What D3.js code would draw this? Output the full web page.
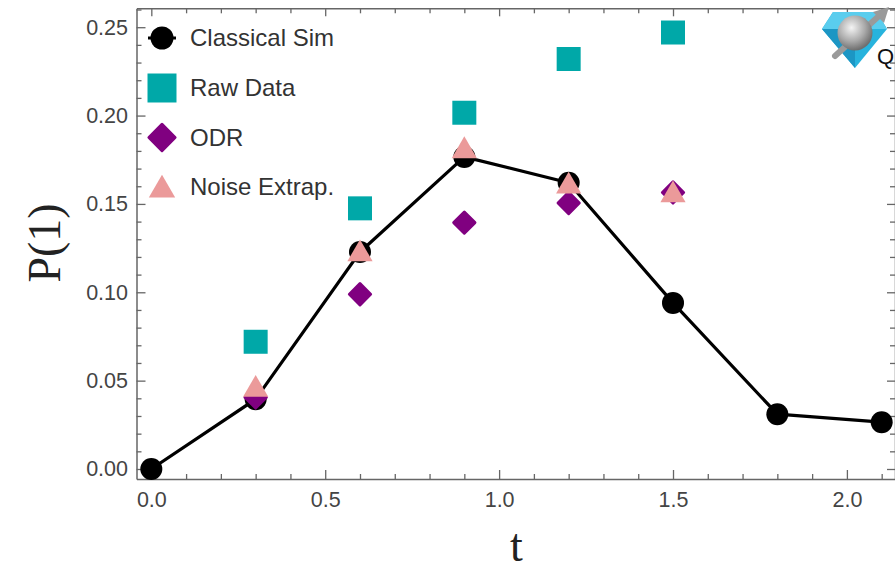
<!DOCTYPE html>
<html>
<head>
<meta charset="utf-8">
<script src="https://cdn.jsdelivr.net/npm/d3@7"></script>
<style>
  html, body { margin: 0; padding: 0; background: #fff; }
  svg { display: block; }
  .tick text { font-family: "Liberation Sans", Arial, sans-serif; font-size: 21.5px; fill: #444; }
  .legend text { font-family: "Liberation Sans", Arial, sans-serif; font-size: 24px; fill: #333; }
</style>
</head>
<body>
<div id="chart"></div>
<script>
// Data
const simT = [0, 0.3, 0.6, 0.9, 1.2, 1.5, 1.8, 2.1];
const classicalSim = [0, 0.0395, 0.1228, 0.1766, 0.162, 0.094, 0.031, 0.0265];
const expT = [0.3, 0.6, 0.9, 1.2, 1.5];
const rawData = [0.072, 0.1475, 0.2016, 0.232, 0.247];
const odr = [0.0405, 0.0989, 0.1394, 0.1505, 0.1565];
const noiseExtrap = [0.045, 0.1217, 0.180, 0.160, 0.155];
const xMajor = [0, 0.5, 1, 1.5, 2];
const yMajor = [0, 0.05, 0.1, 0.15, 0.2, 0.25];
const legendNames = ["Classical Sim", "Raw Data", "ODR", "Noise Extrap."];

const W = 895, H = 572;
const frame = {left: 136.5, right: 895, top: 8.3, bottom: 479};

const svg = d3.select("#chart").append("svg")
    .attr("width", W)
    .attr("height", H);

// Scales (domain chosen so the frame edges match the reference)
const x = d3.scaleLinear()
    .domain([-0.0426, 2.1383])
    .range([frame.left, frame.right]);
const y = d3.scaleLinear()
    .domain([-0.00566, 0.2607])
    .range([frame.bottom, frame.top]);

const xMinor = d3.range(0, 22).map(i => i / 10).filter(v => !xMajor.some(m => Math.abs(m - v) < 1e-9));
const yMinor = d3.range(0, 27).map(i => i / 100).filter(v => !yMajor.some(m => Math.abs(m - v) < 1e-9));

function styleAxis(g) {
    g.select(".domain").attr("stroke", "#666").attr("stroke-width", 1.5);
    g.selectAll(".tick line").attr("stroke", "#666").attr("stroke-width", 1.3);
}

// Bottom axis
svg.append("g")
    .attr("transform", `translate(0,${frame.bottom})`)
    .call(d3.axisBottom(x).tickValues(xMajor).tickFormat(d3.format(".1f"))
        .tickSizeInner(-9).tickSizeOuter(0).tickPadding(13))
    .call(styleAxis)
    .call(g => g.selectAll(".tick text").attr("fill", "#444"));
svg.append("g")
    .attr("transform", `translate(0,${frame.bottom})`)
    .call(d3.axisBottom(x).tickValues(xMinor).tickFormat("").tickSizeInner(-5).tickSizeOuter(0))
    .call(styleAxis)
    .call(g => g.select(".domain").remove());

// Top axis
svg.append("g")
    .attr("transform", `translate(0,${frame.top})`)
    .call(d3.axisTop(x).tickValues(xMajor).tickFormat("").tickSizeInner(-8).tickSizeOuter(0))
    .call(styleAxis);
svg.append("g")
    .attr("transform", `translate(0,${frame.top})`)
    .call(d3.axisTop(x).tickValues(xMinor).tickFormat("").tickSizeInner(-5).tickSizeOuter(0))
    .call(styleAxis)
    .call(g => g.select(".domain").remove());

// Left axis
svg.append("g")
    .attr("transform", `translate(${frame.left},0)`)
    .call(d3.axisLeft(y).tickValues(yMajor).tickFormat(d3.format(".2f"))
        .tickSizeInner(-9).tickSizeOuter(0).tickPadding(8.5))
    .call(styleAxis)
    .call(g => g.selectAll(".tick text").attr("fill", "#444"));
svg.append("g")
    .attr("transform", `translate(${frame.left},0)`)
    .call(d3.axisLeft(y).tickValues(yMinor).tickFormat("").tickSizeInner(-5).tickSizeOuter(0))
    .call(styleAxis)
    .call(g => g.select(".domain").remove());

// Right axis
svg.append("g")
    .attr("transform", `translate(${frame.right},0)`)
    .call(d3.axisRight(y).tickValues(yMajor).tickFormat("").tickSizeInner(-8).tickSizeOuter(0))
    .call(styleAxis);
svg.append("g")
    .attr("transform", `translate(${frame.right},0)`)
    .call(d3.axisRight(y).tickValues(yMinor).tickFormat("").tickSizeInner(-5).tickSizeOuter(0))
    .call(styleAxis)
    .call(g => g.select(".domain").remove());

// Axis labels
svg.append("text")
    .attr("transform", `translate(${60},${243}) rotate(-90)`)
    .attr("text-anchor", "middle")
    .style("font-family", "'Liberation Serif', 'Times New Roman', serif")
    .style("font-size", "46px")
    .attr("fill", "#222")
    .text("P(1)");
svg.append("text")
    .attr("x", x(1.05))
    .attr("y", 561)
    .attr("text-anchor", "middle")
    .style("font-family", "'Liberation Serif', 'Times New Roman', serif")
    .style("font-size", "46px")
    .attr("fill", "#222")
    .text("t");

// Colours
const cBlack = "#000000", cTeal = "#00A8A8", cPurple = "#800080", cPink = "#EB9A9A";

const plot = svg.append("g");

// Classical Sim line and circles
const sim = simT.map((t, i) => ({t: t, v: classicalSim[i]}));
plot.append("path")
    .datum(sim)
    .attr("fill", "none")
    .attr("stroke", cBlack)
    .attr("stroke-width", 3.2)
    .attr("stroke-linejoin", "round")
    .attr("d", d3.line().x(d => x(d.t)).y(d => y(d.v)));
plot.selectAll(".simDot")
    .data(sim)
    .enter().append("circle")
    .attr("class", "simDot")
    .attr("cx", d => x(d.t))
    .attr("cy", d => y(d.v))
    .attr("r", 11)
    .attr("fill", cBlack);

// Raw Data squares
plot.selectAll(".rawDot")
    .data(expT.map((t, i) => ({t: t, v: rawData[i]})))
    .enter().append("path")
    .attr("class", "rawDot")
    .attr("transform", d => `translate(${x(d.t)},${y(d.v)})`)
    .attr("d", d3.symbol(d3.symbolSquare, 24 * 24))
    .attr("fill", cTeal);

// ODR diamonds (rounded)
plot.selectAll(".odrDot")
    .data(expT.map((t, i) => ({t: t, v: odr[i]})))
    .enter().append("path")
    .attr("class", "odrDot")
    .attr("transform", d => `translate(${x(d.t)},${y(d.v)}) rotate(45)`)
    .attr("d", d3.symbol(d3.symbolSquare, 15 * 15))
    .attr("fill", cPurple)
    .attr("stroke", cPurple)
    .attr("stroke-width", 3)
    .attr("stroke-linejoin", "round");

// Noise Extrap. triangles
plot.selectAll(".noiseDot")
    .data(expT.map((t, i) => ({t: t, v: noiseExtrap[i]})))
    .enter().append("path")
    .attr("class", "noiseDot")
    .attr("transform", d => `translate(${x(d.t)},${y(d.v)})`)
    .attr("d", d3.symbol(d3.symbolTriangle, 275))
    .attr("fill", cPink);

// Legend
const legend = svg.append("g").attr("class", "legend");
const legendY = [38, 88, 137.5, 187];
const lx = 162;

legend.append("line")
    .attr("x1", lx - 14).attr("x2", lx + 14)
    .attr("y1", legendY[0]).attr("y2", legendY[0])
    .attr("stroke", cBlack).attr("stroke-width", 3);
legend.append("circle")
    .attr("cx", lx).attr("cy", legendY[0]).attr("r", 11.5)
    .attr("fill", cBlack);
legend.append("path")
    .attr("transform", `translate(${lx},${legendY[1]})`)
    .attr("d", d3.symbol(d3.symbolSquare, 29 * 29))
    .attr("fill", cTeal);
legend.append("path")
    .attr("transform", `translate(${lx},${legendY[2]}) rotate(45)`)
    .attr("d", d3.symbol(d3.symbolSquare, 18.5 * 18.5))
    .attr("fill", cPurple)
    .attr("stroke", cPurple)
    .attr("stroke-width", 3)
    .attr("stroke-linejoin", "round");
legend.append("path")
    .attr("transform", `translate(${lx},${legendY[3] + 3})`)
    .attr("d", d3.symbol(d3.symbolTriangle, 300))
    .attr("fill", cPink);

legend.selectAll("text.lab")
    .data(legendNames)
    .enter().append("text")
    .attr("class", "lab")
    .attr("x", 190)
    .attr("y", (d, i) => legendY[i])
    .attr("dy", "0.35em")
    .text(d => d);

// Logo in the top-right corner
const logo = svg.append("g");
const defs = svg.append("defs");
const grad = defs.append("radialGradient").attr("id", "sphereGrad")
    .attr("cx", "40%").attr("cy", "35%").attr("r", "65%");
grad.append("stop").attr("offset", "0%").attr("stop-color", "#f4f4f4");
grad.append("stop").attr("offset", "60%").attr("stop-color", "#a9a9a9");
grad.append("stop").attr("offset", "100%").attr("stop-color", "#6e6e6e");

logo.append("polygon")
    .attr("points", "833,12 877,12 887,29 855,68 822,29")
    .attr("fill", "#27B3DD");
logo.append("polygon")
    .attr("points", "833,12 877,12 887,29 822,29")
    .attr("fill", "#5ACDEE");
logo.append("polygon")
    .attr("points", "822,29 855,29 855,68")
    .attr("fill", "#1C96C4");
logo.append("line")
    .attr("x1", 835).attr("y1", 56).attr("x2", 880).attr("y2", 15)
    .attr("stroke", "#9a9a9a").attr("stroke-width", 6).attr("stroke-linecap", "round");
logo.append("polygon")
    .attr("points", "889,7 873,12 884,23")
    .attr("fill", "#9a9a9a");
logo.append("circle")
    .attr("cx", 855).attr("cy", 33).attr("r", 17.5)
    .attr("fill", "url(#sphereGrad)");
logo.append("text")
    .attr("x", 877).attr("y", 64)
    .style("font-family", "'Liberation Sans', Arial, sans-serif")
    .style("font-size", "22px")
    .attr("fill", "#111")
    .text("Q");
</script>
</body>
</html>
